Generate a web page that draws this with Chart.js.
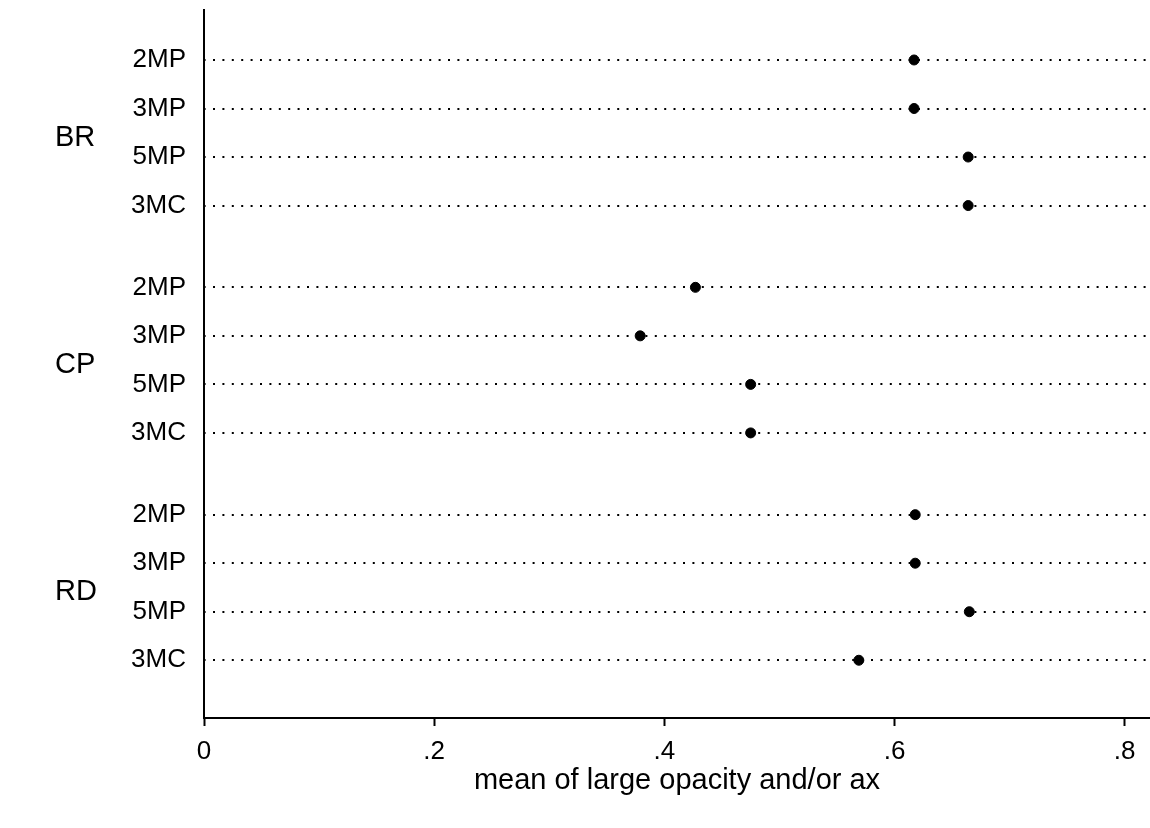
<!DOCTYPE html>
<html>
<head>
<meta charset="utf-8">
<script src="https://cdn.jsdelivr.net/npm/chart.js@4"></script>
<style>
  html, body { margin: 0; padding: 0; background: #fff; }
  #wrap { width: 1150px; height: 828px; }
</style>
</head>
<body>
<div id="wrap"><canvas id="dotChart"></canvas></div>
<script>
// Data
const groups = ['BR', 'CP', 'RD'];
const subLabels = ['2MP', '3MP', '5MP', '3MC'];
const brValues = [0.617, 0.617, 0.664, 0.664];
const cpValues = [0.427, 0.379, 0.475, 0.475];
const rdValues = [0.618, 0.618, 0.665, 0.569];
const xTicks = [0, 0.2, 0.4, 0.6, 0.8];

const groupValues = [brValues, cpValues, rdValues];
const groupGap = 0.685; // extra space between groups, in rows
const font = 'Liberation Sans, Arial, sans-serif';

// row position on the y scale
function rowPos(g, i) {
  return g * (subLabels.length + groupGap) + i;
}

const points = [];
const rowTicks = [];
groupValues.forEach(function(vals, g) {
  vals.forEach(function(v, i) {
    points.push({ x: v, y: rowPos(g, i) });
    rowTicks.push(rowPos(g, i));
  });
});

// group labels on the left
const groupLabelPlugin = {
  id: 'groupLabels',
  afterDraw(chart) {
    const ctx = chart.ctx;
    const y = chart.scales.y;
    ctx.save();
    ctx.font = '29px ' + font;
    ctx.fillStyle = '#000';
    ctx.textAlign = 'left';
    ctx.textBaseline = 'middle';
    groups.forEach(function(name, g) {
      ctx.fillText(name, 55, y.getPixelForValue(rowPos(g, 1.5)) + 5);
    });
    ctx.restore();
  }
};

new Chart(document.getElementById('dotChart'), {
  type: 'scatter',
  data: {
    datasets: [{
      data: points,
      backgroundColor: '#000',
      borderColor: '#000',
      pointRadius: 5,
      pointHoverRadius: 5
    }]
  },
  options: {
    responsive: true,
    maintainAspectRatio: false,
    animation: false,
    layout: { autoPadding: false, padding: { top: 10, right: 0, left: 0, bottom: 0 } },
    plugins: {
      legend: { display: false },
      tooltip: { enabled: false }
    },
    scales: {
      x: {
        type: 'linear',
        min: 0,
        max: 0.822,
        afterBuildTicks: function(scale) {
          scale.ticks = xTicks.map(function(v) { return { value: v }; });
        },
        afterFit: function(scale) {
          scale.height = 110;
          scale.paddingLeft = 0;
          scale.paddingRight = 0;
        },
        grid: {
          drawOnChartArea: false,
          drawTicks: true,
          tickLength: 8,
          tickColor: '#000',
          tickWidth: 2
        },
        border: { display: true, color: '#000', width: 2 },
        ticks: {
          color: '#000',
          padding: 10,
          font: { family: font, size: 26 },
          maxRotation: 0,
          callback: function(value) {
            return value === 0 ? '0' : String(value).replace(/^0/, '');
          }
        },
        title: {
          display: true,
          text: 'mean of large opacity and/or ax',
          color: '#000',
          font: { family: font, size: 29 },
          padding: { top: 0, bottom: 30 }
        }
      },
      y: {
        type: 'linear',
        reverse: true,
        min: -1.03,
        max: 13.56,
        afterBuildTicks: function(scale) {
          scale.ticks = rowTicks.map(function(v) { return { value: v }; });
        },
        afterFit: function(scale) {
          scale.width = 204;
          scale.paddingTop = 0;
          scale.paddingBottom = 0;
        },
        grid: {
          drawTicks: false,
          color: '#000',
          lineWidth: 2
        },
        border: { display: true, color: '#000', width: 2, dash: [2, 7.4], dashOffset: 1.4 },
        ticks: {
          color: '#000',
          padding: 18,
          font: { family: font, size: 26 },
          callback: function(value, index) {
            return subLabels[index % subLabels.length];
          }
        }
      }
    }
  },
  plugins: [groupLabelPlugin]
});
</script>
</body>
</html>
